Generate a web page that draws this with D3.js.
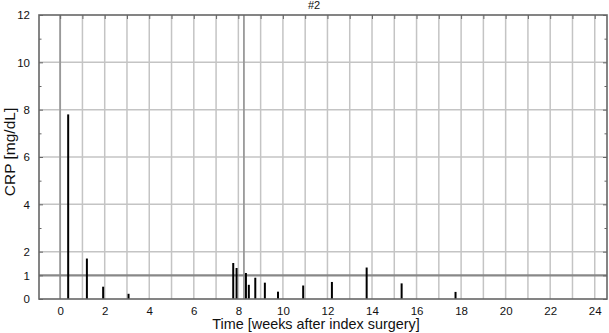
<!DOCTYPE html>
<html><head><meta charset="utf-8">
<script src="https://cdn.jsdelivr.net/npm/d3@7"></script>
<style>body{margin:0;background:#fff;} svg{display:block;font-family:"Liberation Sans",Arial,sans-serif;}</style>
</head><body>
<svg id="c" width="609" height="333"></svg>
<script>
const weeks = [0.36, 1.2, 1.93, 3.07, 7.77, 7.92, 8.34, 8.47, 8.76, 9.19, 9.78, 10.91, 12.2, 13.76, 15.33, 17.75];
const crp   = [7.8, 1.71, 0.52, 0.22, 1.52, 1.31, 1.10, 0.60, 0.90, 0.69, 0.31, 0.57, 0.72, 1.33, 0.66, 0.30];
const xTicks = [0,2,4,6,8,10,12,14,16,18,20,22,24];
const yTicks = [0,1,2,4,6,8,10,12];
const yMinor = [3,5,7,9,11];
const eventWeeks = [0, 8.25];
const threshold = 1;
const title = "#2";
const xLabel = "Time [weeks after index surgery]";
const yLabel = "CRP [mg/dL]";

const svg = d3.select("#c");
const L = 39, R = 607, T = 15, B = 299;
const x = d3.scaleLinear().domain([-0.95, 24.55]).range([L, R]);
const y = d3.scaleLinear().domain([0, 12]).range([B, T]);

// vertical grid every week
const gridX = d3.range(0, 25);
svg.append("g").selectAll("line").data(gridX).join("line")
  .attr("x1", d => x(d)).attr("x2", d => x(d)).attr("y1", T).attr("y2", B)
  .attr("stroke", "#c4c4c4").attr("stroke-width", 1.5);
// horizontal grid
svg.append("g").selectAll("line").data([2,4,6,8,10]).join("line")
  .attr("x1", L).attr("x2", R).attr("y1", d => y(d)).attr("y2", d => y(d))
  .attr("stroke", "#c4c4c4").attr("stroke-width", 1.5);

// event lines
svg.append("g").selectAll("line").data(eventWeeks).join("line")
  .attr("x1", d => x(d)).attr("x2", d => x(d)).attr("y1", T).attr("y2", B)
  .attr("stroke", "#999").attr("stroke-width", 1.8);

// threshold
svg.append("line").attr("x1", L).attr("x2", R).attr("y1", y(threshold)).attr("y2", y(threshold))
  .attr("stroke", "#888").attr("stroke-width", 2.2);

// bars
svg.append("g").selectAll("line").data(weeks).join("line")
  .attr("x1", d => x(d)).attr("x2", d => x(d))
  .attr("y1", y(0)).attr("y2", (d, i) => y(crp[i]))
  .attr("stroke", "#000").attr("stroke-width", 2);

// frame
svg.append("rect").attr("x", L).attr("y", T).attr("width", R - L).attr("height", B - T)
  .attr("fill", "none").attr("stroke", "#666").attr("stroke-width", 1.6);

// axes
const yAxis = d3.axisLeft(y).tickValues(yTicks).tickSize(-4).tickPadding(9).tickFormat(d3.format("d"));
const gy = svg.append("g").attr("transform", `translate(${L},0)`).call(yAxis);
const yAxisR = d3.axisRight(y).tickValues(yTicks).tickSize(-4).tickFormat("");
const gyr = svg.append("g").attr("transform", `translate(${R},0)`).call(yAxisR);
const yMinL = d3.axisLeft(y).tickValues(yMinor).tickSize(-2.5).tickFormat("");
const gm1 = svg.append("g").attr("transform", `translate(${L},0)`).call(yMinL);
const yMinR = d3.axisRight(y).tickValues(yMinor).tickSize(-2.5).tickFormat("");
const gm2 = svg.append("g").attr("transform", `translate(${R},0)`).call(yMinR);
const xTop = d3.axisTop(x).tickValues(gridX).tickSize(-4).tickFormat("");
const gxt = svg.append("g").attr("transform", `translate(0,${T})`).call(xTop);
const xAxis = d3.axisBottom(x).tickValues(xTicks).tickSize(0).tickPadding(8).tickFormat(d3.format("d"));
const gx = svg.append("g").attr("transform", `translate(0,${B})`).call(xAxis);
[gy, gyr, gm1, gm2, gxt, gx].forEach(g => {
  g.select(".domain").remove();
  g.selectAll("line").attr("stroke", "#666").attr("stroke-width", 1);
  g.selectAll("text").attr("font-size", 11.5).attr("fill", "#111").style("font-family", "Liberation Sans, Arial, sans-serif");
});

svg.append("text").attr("x", 314).attr("y", 9).attr("text-anchor", "middle")
  .attr("font-size", 11).attr("fill", "#111").text(title);
svg.append("text").attr("x", 316).attr("y", 329).attr("text-anchor", "middle")
  .attr("font-size", 14.4).attr("fill", "#111").text(xLabel);
svg.append("text").attr("transform", `translate(14.5,152) rotate(-90)`).attr("text-anchor", "middle")
  .attr("font-size", 15.5).attr("fill", "#111").text(yLabel);
</script>
</body></html>
